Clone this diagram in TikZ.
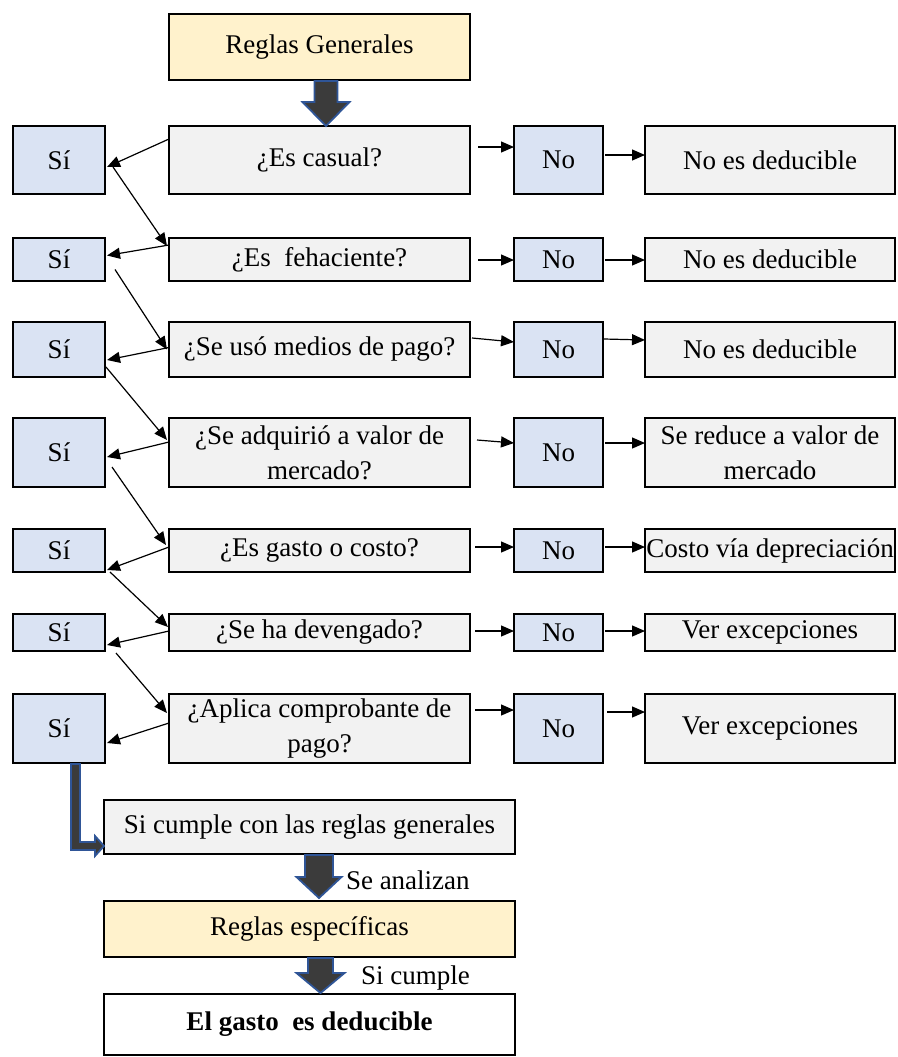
\documentclass[tikz,border=0pt]{standalone}
\usepackage{fontspec}
\setmainfont{Liberation Serif}
\usetikzlibrary{calc,arrows.meta}
\definecolor{siblue}{HTML}{DAE3F3}
\definecolor{qgray}{HTML}{F2F2F2}
\definecolor{ryellow}{HTML}{FFF2CC}
\definecolor{arrfill}{HTML}{3B3B3B}
\definecolor{arredge}{HTML}{2F5597}
\newcommand\bdown[5]{\draw[blockarrow] ($(#1)+(-#3,0)$) -- ($(#1)+(#3,0)$) -- ($(#2)+(#3,-#5)$) -- ($(#2)+(#4,-#5)$) -- (#2) -- ($(#2)+(-#4,-#5)$) -- ($(#2)+(-#3,-#5)$) -- cycle;}
\begin{document}
\begin{tikzpicture}[x=1pt,y=-1pt,
 every node/.style={font=\fontsize{27pt}{35pt}\selectfont, inner sep=0pt, outer sep=0pt},
 box/.style={draw=black, line width=2.2pt, align=center, anchor=center},
 sibox/.style={box, fill=siblue, minimum width=92pt},
 nobox/.style={box, fill=siblue, minimum width=89pt},
 qbox/.style={box, fill=qgray, minimum width=301pt},
 resbox/.style={box, fill=qgray, minimum width=250pt},
 ybox/.style={box, fill=ryellow},
 wide/.style={minimum width=411pt},
 link/.style={draw=black, line width=1.2pt, -{Triangle[length=13pt,width=11pt]}},
 blockarrow/.style={fill=arrfill, draw=arredge, line width=1.8pt, line join=miter},
 lbl/.style={anchor=west}
]
\fill[white] (0,0) rectangle (897,1057);
\useasboundingbox (0,0) rectangle (897,1057);

% top
\node[ybox, minimum width=301pt, minimum height=66pt] (rg) at (319.5,47) {Reglas Generales};

% row 1
\node[sibox, minimum height=68pt] (si1) at (59,160) {Sí};
\node[qbox, minimum height=68pt] (q1) at (319.5,160) {¿Es casual?};
\node[nobox, minimum height=68pt] (no1) at (558.5,160) {No};
\node[resbox, minimum height=68pt] (r1) at (770,160) {No es deducible};
% row 2
\node[sibox, minimum height=43pt] (si2) at (59,259.5) {Sí};
\node[qbox, minimum height=43pt] (q2) at (319.5,259.5) {¿Es\ \ fehaciente?};
\node[nobox, minimum height=43pt] (no2) at (558.5,259.5) {No};
\node[resbox, minimum height=43pt] (r2) at (770,259.5) {No es deducible};
% row 3
\node[sibox, minimum height=55pt] (si3) at (59,349.5) {Sí};
\node[qbox, minimum height=55pt] (q3) at (319.5,349.5) {¿Se usó medios de pago?};
\node[nobox, minimum height=55pt] (no3) at (558.5,349.5) {No};
\node[resbox, minimum height=55pt] (r3) at (770,349.5) {No es deducible};
% row 4
\node[sibox, minimum height=69pt] (si4) at (59,452.5) {Sí};
\node[qbox, minimum height=69pt] (q4) at (319.5,452.5) {¿Se adquirió a valor de\\mercado?};
\node[nobox, minimum height=69pt] (no4) at (558.5,452.5) {No};
\node[resbox, minimum height=69pt] (r4) at (770,452.5) {Se reduce a valor de\\mercado};
% row 5
\node[sibox, minimum height=43pt] (si5) at (59,550.5) {Sí};
\node[qbox, minimum height=43pt] (q5) at (319.5,550.5) {¿Es gasto o costo?};
\node[nobox, minimum height=43pt] (no5) at (558.5,550.5) {No};
\node[resbox, minimum height=43pt] (r5) at (770,550.5) {Costo vía depreciación};
% row 6
\node[sibox, minimum height=37pt] (si6) at (59,632.5) {Sí};
\node[qbox, minimum height=37pt] (q6) at (319.5,632.5) {¿Se ha devengado?};
\node[nobox, minimum height=37pt] (no6) at (558.5,632.5) {No};
\node[resbox, minimum height=37pt] (r6) at (770,632.5) {Ver excepciones};
% row 7
\node[sibox, minimum height=69pt] (si7) at (59,728.5) {Sí};
\node[qbox, minimum height=69pt] (q7) at (319.5,728.5) {¿Aplica comprobante de\\pago?};
\node[nobox, minimum height=69pt] (no7) at (558.5,728.5) {No};
\node[resbox, minimum height=69pt] (r7) at (770,728.5) {Ver excepciones};

% bottom
\node[box, fill=qgray, wide, minimum height=54pt] (sc) at (309.5,827) {Si cumple con las reglas generales};
\node[ybox, wide, minimum height=56pt] (rs) at (309.5,929) {Reglas específicas};
\node[box, fill=white, wide, minimum height=61pt] (gd) at (309.5,1024.5) {\textbf{El gasto\ \ es deducible}};

% left links
\draw[link] ($(q1.north west)+(0,13)$) -- ($(si1.east)+(2,7)$);
\draw[link] ($(si1.east)+(8,7)$) -- ($(q2.north west)+(-2,8)$);
\draw[link] ($(q2.north west)+(0,7)$) -- ($(si2.east)+(2,-4)$);
\draw[link] ($(si2.east)+(10,10)$) -- ($(q3.west)+(-2,0)$);
\draw[link] ($(q3.west)+(0,-2)$) -- ($(si3.east)+(2,10.5)$);
\draw[link] ($(si3.east)+(1,17.5)$) -- ($(q4.west)+(-2,-12.5)$);
\draw[link] ($(q4.west)+(0,-10.5)$) -- ($(si4.east)+(2,4.5)$);
\draw[link] ($(si4.east)+(7,14.5)$) -- ($(q5.west)+(-3,-5.5)$);
\draw[link] ($(q5.west)+(0,-3.5)$) -- ($(si5.east)+(2,19.5)$);
\draw[link] ($(si5.east)+(5,21.5)$) -- ($(q6.west)+(-1,-5.5)$);
\draw[link] ($(q6.west)+(0,-1.5)$) -- ($(si6.east)+(2,12.5)$);
\draw[link] ($(si6.east)+(11,20.5)$) -- ($(q7.west)+(-2,-15.5)$);
\draw[link] ($(q7.west)+(0,-5.5)$) -- ($(si7.east)+(2,14.5)$);

% right links
\draw[link] ($(q1.east)+(8,-13)$) -- ($(no1.west)+(0,-13)$);
\draw[link] ($(no1.east)+(2,-5)$) -- ($(r1.west)+(0,-5)$);
\draw[link] ($(q2.east)+(8,0.5)$) -- ($(no2.west)+(0,0.5)$);
\draw[link] ($(no2.east)+(2,0.5)$) -- ($(r2.west)+(0,0.5)$);
\draw[link] ($(q3.east)+(2,-11.5)$) -- ($(no3.west)+(0,-7.5)$);
\draw[link] ($(no3.east)+(1,-10.5)$) -- ($(r3.west)+(0,-9.5)$);
\draw[link] ($(q4.east)+(7,-12.5)$) -- ($(no4.west)+(0,-9.5)$);
\draw[link] ($(no4.east)+(2,-9.5)$) -- ($(r4.west)+(0,-9.5)$);
\draw[link] ($(q5.east)+(5,-3.5)$) -- ($(no5.west)+(0,-3.5)$);
\draw[link] ($(no5.east)+(2,-3.5)$) -- ($(r5.west)+(0,-3.5)$);
\draw[link] ($(q6.east)+(5,-1.5)$) -- ($(no6.west)+(0,-1.5)$);
\draw[link] ($(no6.east)+(2,-1.5)$) -- ($(r6.west)+(0,-1.5)$);
\draw[link] ($(q7.east)+(5,-18.5)$) -- ($(no7.west)+(0,-18.5)$);
\draw[link] ($(no7.east)+(4,-16.5)$) -- ($(r7.west)+(0,-16.5)$);

% block arrows
\coordinate (t1) at ($(rg.south)+(6.5,1)$);
\coordinate (t2) at ($(q1.north)+(6.5,0)$);
\bdown{t1}{t2}{11.5}{23.5}{24}
\coordinate (t3) at ($(sc.south)+(9.5,1)$);
\coordinate (t4) at ($(rs.north)+(9.5,-3)$);
\bdown{t3}{t4}{14}{22.5}{21}
\coordinate (t5) at ($(rs.south)+(11,1)$);
\coordinate (t6) at ($(gd.north)+(11,-1)$);
\bdown{t5}{t6}{12.5}{24}{20}

% elbow arrow
\coordinate (e1) at ($(si7.south)+(16.5,1)$);
\coordinate (e2) at ($(sc.west)+(0,19)$);
\draw[blockarrow] ($(e1)+(-4.5,0)$) -- ($(e1|-e2)+(-4.5,4)$) -- ($(e2)+(-9,4)$) -- ($(e2)+(-9,10)$) -- (e2) -- ($(e2)+(-9,-10)$) -- ($(e2)+(-9,-4)$) -- ($(e1|-e2)+(4.5,-4)$) -- ($(e1)+(4.5,0)$) -- cycle;

% labels
\node[lbl] (lsa) at (346,880) {Se analizan};
\node[lbl] (lsc) at (361,978) {Si cumple};
\end{tikzpicture}
\end{document}
